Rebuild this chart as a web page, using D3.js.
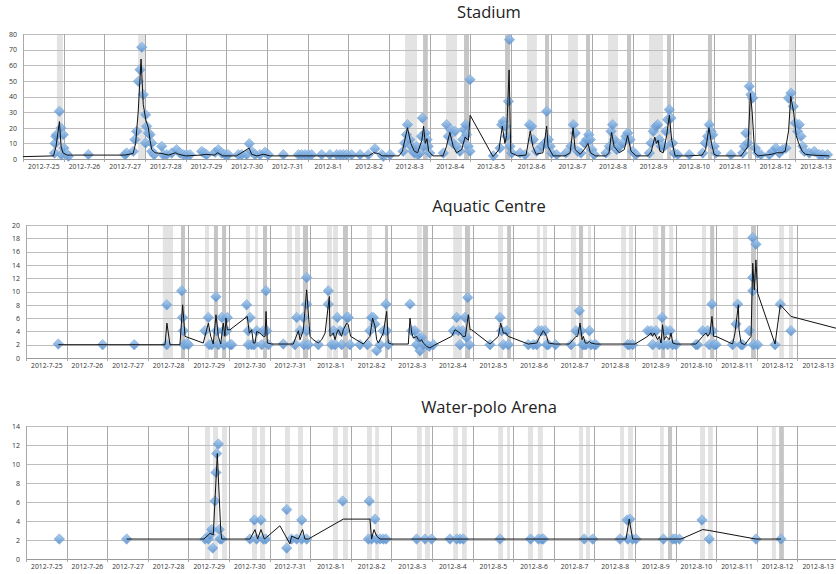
<!DOCTYPE html>
<html>
<head>
<meta charset="utf-8">
<script src="https://cdn.jsdelivr.net/npm/d3@7"></script>
<style>
  body { margin: 0; background: #fff; }
  svg { display: block; }
  .tick text { font-family: "Open Sans", sans-serif; fill: #333; }
</style>
</head>
<body>
<div class="viz-container"></div>
<script>
// times are "month-day hour" (hour may be fractional)

// ---------- Stadium ----------
const stadiumPts = [
  ["7-25 18.6",3.8],["7-25 18.9",10],["7-25 19.4",14.5],["7-25 19.9",15.6],["7-25 21.5",30.5],["7-25 22.4",19.8],
  ["7-25 22.8",2.8],["7-25 23.8",15.6],["7-26 0.2",7],["7-26 1.8",3.4],["7-26 2.8",1.7],
  ["7-26 14.6",2.8],
  ["7-27 12.2",2.8],["7-27 13.2",3.8],["7-27 17.1",4.9],["7-27 18.1",12.4],["7-27 19.1",17.7],["7-27 20.1",49.7],
  ["7-27 21.1",57.2],["7-27 22.1",71.5],["7-27 23",41.2],["7-28 0.4",28.4],["7-28 0.4",10.2],["7-28 1",20.9],
  ["7-28 2",16.6],["7-28 3",15.6],["7-28 4",10.2],["7-28 4",4.9],["7-28 5.4",2.8],
  ["7-28 9.9",8.1],["7-28 10.8",2.8],["7-28 12.8",2.8],["7-28 15.8",3.8],["7-28 18.7",6],["7-28 20.7",3.8],
  ["7-28 22.7",2.8],["7-29 0.6",2.8],["7-29 2.6",2.8],
  ["7-29 9.5",4.9],["7-29 10.9",3.8],["7-29 12.4",2.8],["7-29 17.4",4.3],["7-29 19.3",6],["7-29 21.3",3.8],
  ["7-29 23.3",2.8],["7-30 1.2",2.8],
  ["7-30 7.1",2.8],["7-30 9.1",2.8],["7-30 12",2.8],["7-30 13.6",9.8],["7-30 15",4.9],["7-30 17",2.8],
  ["7-30 19.9",2.8],["7-30 22.9",4.3],["7-31 0.8",2.8],
  ["7-31 9.7",2.8],["7-31 18.6",2.8],["7-31 20.5",2.8],["7-31 22.5",2.8],["8-1 0.5",2.8],["8-1 2.4",2.8],
  ["8-1 8.3",2.8],["8-1 13.2",2.8],["8-1 17.2",2.8],["8-1 19.2",2.8],["8-1 21.1",2.8],["8-1 23.1",2.8],
  ["8-2 2",2.8],["8-2 7",2.8],
  ["8-2 11.9",2.8],["8-2 15.8",6.6],["8-2 19.8",2.8],["8-2 20.7",1.7],["8-3 0.7",2.8],
  ["8-3 8.4",4.9],["8-3 9.4",10.2],["8-3 10.4",15.6],["8-3 11",22],["8-3 12.4",12.4],["8-3 13.3",8.1],
  ["8-3 14.3",4.9],["8-3 15.3",3.8],["8-3 16.3",8.1],["8-3 17.3",2.8],["8-3 18.3",3.8],["8-3 19.2",14.5],
  ["8-3 19.8",26.2],["8-3 20.6",8.1],["8-3 21.6",16.6],["8-3 22.6",12.4],["8-3 23.2",8.1],["8-4 0.1",3.8],
  ["8-4 8.2",3.8],["8-4 10.1",22],["8-4 11.1",14.5],["8-4 12.5",18.8],["8-4 13.7",10.2],["8-4 15",17.7],
  ["8-4 16",8.1],["8-4 18",4.9],["8-4 19.6",12.4],["8-4 20.4",18.8],["8-4 21.4",22],["8-4 21.9",15.6],
  ["8-4 22.9",8.1],["8-4 23.9",50.8],["8-4 23.9",4.9],
  ["8-5 13.7",2.1],["8-5 17.6",7],["8-5 18.6",22],["8-5 19.6",24.1],["8-5 20.6",20.9],["8-5 21.6",14.5],
  ["8-5 22.6",36.9],["8-5 23.2",76.4],["8-5 23.5",8.1],["8-6 0.5",3.8],
  ["8-6 5.4",3.8],["8-6 8.4",2.8],["8-6 11",22],["8-6 12.3",20.9],["8-6 13.3",12.4],["8-6 15.3",4.9],
  ["8-6 18.2",8.1],["8-6 20.2",10.2],["8-6 21.2",30.5],["8-6 22.2",12.4],["8-6 23.2",8.1],["8-7 0.1",3.8],
  ["8-7 3.1",2.8],
  ["8-7 8.6",3.8],["8-7 11.5",8.1],["8-7 12.9",22],["8-7 14.1",16.6],["8-7 15.5",4.9],["8-7 17.4",3.8],
  ["8-7 19.4",10.2],["8-7 20.8",12.4],["8-7 22",15.6],["8-7 22.9",12.4],["8-7 23.9",6],["8-8 1.3",2.8],
  ["8-8 8.2",3.8],["8-8 10.2",8.1],["8-8 11.2",17.7],["8-8 12.1",22],["8-8 13.1",12.4],["8-8 14.5",6],
  ["8-8 16.1",8.1],["8-8 18",10.2],["8-8 20",14.5],["8-8 21",16.6],["8-8 22.4",12.4],["8-8 23.9",4.9],
  ["8-9 1.9",2.8],
  ["8-9 9.8",3.8],["8-9 10.8",10.2],["8-9 12.1",17.7],["8-9 13.7",20.9],["8-9 14.7",22],["8-9 15.7",12.4],
  ["8-9 16.7",8.1],["8-9 18.6",8.1],["8-9 19.6",17.7],["8-9 20.6",25.2],["8-9 21.6",31.6],["8-9 22.6",26.2],
  ["8-9 23.5",10.2],["8-10 0.5",3.8],["8-10 2.5",2.8],
  ["8-10 9.4",2.8],["8-10 17.3",3.8],["8-10 18.8",10.2],["8-10 20.2",14.5],["8-10 21.2",22],["8-10 22.2",17.7],
  ["8-10 23.2",15.6],["8-11 0.1",8.1],["8-11 1.1",3.8],
  ["8-11 10",2.8],["8-11 16.9",3.8],["8-11 17.9",8.1],["8-11 18.8",16.6],["8-11 19.8",10.2],["8-11 20.8",46.5],
  ["8-11 21.8",41.2],["8-11 22.8",39],["8-12 0.4",7],["8-12 1.7",3.8],["8-12 3.7",2.8],
  ["8-12 8.6",2.8],["8-12 10.6",4.9],["8-12 12.5",7],["8-12 14.5",3.8],["8-12 16.5",6],["8-12 18.5",7],
  ["8-12 20",39],["8-12 21.4",42.2],["8-12 22.8",33.7],["8-13 0",23],["8-13 1.3",17.7],["8-13 2.3",22],
  ["8-13 3.3",14.5],["8-13 4.3",8.1],["8-13 5.3",4.9],["8-13 8.2",3.8],["8-13 11.2",4.9],["8-13 14.1",2.8],
  ["8-13 16.1",2.8],["8-13 19",2.8]
];
const stadiumLine = [
  ["7-25 0",1.5],["7-25 18",2],["7-25 19.5",8],["7-25 21.5",24],["7-25 22.5",8],["7-25 23.5",4],["7-26 2",2.5],
  ["7-27 12",2.5],["7-27 17",3.5],["7-27 18.5",10],["7-27 20",30],["7-27 21.7",64],["7-27 23",35],["7-28 0.5",25],
  ["7-28 2",20],["7-28 3",12],["7-28 4",6],["7-28 6",4],["7-28 10",3.5],["7-28 14",2.5],["7-28 18",4],["7-28 20",3],
  ["7-29 0",2],["7-29 9",2.5],["7-29 12",3],["7-29 17",2.5],["7-29 19",4],["7-29 22",2],["7-30 6",2],
  ["7-30 13.5",7],["7-30 15",3],["7-30 18",2],["7-30 22",3],["7-31 2",2],["8-2 12",2],["8-2 15",4],["8-2 18",3.5],
  ["8-2 20",2],["8-3 6",2],["8-3 8",5],["8-3 11",20],["8-3 13",10],["8-3 15",5],["8-3 17",4],["8-3 19.5",12],
  ["8-3 20.5",21],["8-3 21.5",10],["8-3 22.5",13],["8-3 23.5",5],["8-4 2",2],["8-4 8",2],["8-4 10",8],["8-4 12",17],
  ["8-4 14",8],["8-4 16",4],["8-4 19",6],["8-4 21",14],["8-4 23",12],["8-5 0",28],["8-5 13.5",1.5],["8-5 17",6],
  ["8-5 19",21],["8-5 20.5",10],["8-5 21.5",15],["8-5 23",57],["8-6 0",4],["8-6 4",2],["8-6 9",2.5],["8-6 11.5",18],
  ["8-6 13",8],["8-6 15",3],["8-6 19",4],["8-6 21.2",21],["8-6 22",8],["8-7 1",2],["8-7 8",2],["8-7 11",4],
  ["8-7 12.8",20],["8-7 14",6],["8-7 17",3],["8-7 20",7],["8-7 21.5",10],["8-7 23",4],["8-8 2",2],["8-8 8",2],
  ["8-8 10",4],["8-8 11.5",17],["8-8 13",8],["8-8 16",4],["8-8 19",6],["8-8 21",15],["8-8 23",5],["8-9 2",2],
  ["8-9 9",2],["8-9 11",5],["8-9 13",14],["8-9 14",10],["8-9 15",12],["8-9 16",5],["8-9 18",4],["8-9 20",15],
  ["8-9 21.6",28],["8-9 23",12],["8-10 1",2],["8-10 9",2],["8-10 17",2.5],["8-10 19",6],["8-10 21",20],
  ["8-10 22.5",10],["8-11 0",3],["8-11 2",2],["8-11 16",2],["8-11 18",5],["8-11 20",8],["8-11 21.5",42],
  ["8-11 22.5",30],["8-12 0",4],["8-12 2",2],["8-12 10",3],["8-12 13",4],["8-12 16",4],["8-12 18",5],["8-12 20",18],
  ["8-12 21.3",40],["8-12 23",30],["8-13 0.5",15],["8-13 2",10],["8-13 4",5],["8-13 6",3],["8-13 10",2.5],["8-13 20",2]
];
const stadiumLight = [
  ["7-25 20","7-25 23.5"],["7-27 20","7-28 0"],["8-3 9.6","8-3 16.6"],["8-4 9.8","8-4 16.2"],["8-6 9.6","8-6 15.4"],
  ["8-7 9.8","8-7 15.6"],["8-8 9.4","8-8 15.3"],["8-9 9.6","8-9 17.8"],["8-12 20.2","8-13 0.4"]
];
const stadiumDark = [
  ["8-3 20.2","8-3 23"],["8-4 20.4","8-4 23.3"],["8-5 20.6","8-5 23.5"],["8-6 20.2","8-6 22.6"],["8-7 20.4","8-7 22.8"],
  ["8-8 20.6","8-8 23"],["8-9 20.2","8-9 22.6"],["8-10 20.4","8-10 22.8"],["8-11 20.1","8-11 22.4"]
];

// ---------- Aquatic Centre ----------
const aquaticPts = [
  ["7-25 19.1",2.1],["7-26 21.3",2],["7-27 16",2],
  ["7-28 11.2",8],["7-28 11.2",2],["7-28 20",10.1],["7-28 20.6",6.1],["7-28 21",4.1],["7-28 21.4",2],["7-28 23",2.2],["7-29 0",2],
  ["7-29 9.8",4.1],["7-29 11.8",6.1],["7-29 12.4",2],["7-29 13.8",2],["7-29 16.3",9.2],["7-29 16.7",4.1],["7-29 17.7",2],
  ["7-29 19.7",6.1],["7-29 20.6",4.1],["7-29 21",2],["7-29 22.6",4.1],["7-29 23",6.1],["7-30 0.6",2],["7-30 1.6",2],
  ["7-30 10.4",8],["7-30 11.4",4.1],["7-30 11.4",2],["7-30 12.4",6.1],["7-30 13.4",2],["7-30 14.8",2],["7-30 16.4",4.1],
  ["7-30 19.3",2],["7-30 20.3",4.1],["7-30 21.9",10.1],["7-30 22.3",4.1],["7-30 23.3",2],
  ["7-31 8.1",2.1],["7-31 15",2],["7-31 16",6.1],["7-31 18",4.1],["7-31 19.9",6.1],["7-31 20.3",2],["7-31 21.9",8.1],
  ["7-31 21.9",12.1],["7-31 21.9",4.1],["7-31 22.9",2],["8-1 4.8",2],
  ["8-1 10.7",10.1],["8-1 10.7",8.1],["8-1 12.7",2],["8-1 13.7",4.1],["8-1 14.7",2],["8-1 16",6.1],["8-1 17.6",4.1],
  ["8-1 18.6",2],["8-1 20.6",4.1],["8-1 21.6",6.1],["8-1 22.5",6.1],["8-1 23.5",2],
  ["8-2 5.4",2],["8-2 9.8",2],["8-2 11.3",4.1],["8-2 12.3",6.1],["8-2 13.3",6.1],["8-2 14.3",5.1],["8-2 15.3",1.1],
  ["8-2 17.3",2],["8-2 19.2",4.1],["8-2 20.8",8.1],["8-2 21.2",4.1],["8-2 22.2",2],
  ["8-3 11",8.1],["8-3 12",4.1],["8-3 13.9",4.1],["8-3 14.9",2],["8-3 15.9",3.1],["8-3 16.9",1.1],["8-3 17.9",3.1],
  ["8-3 18.9",2],["8-3 20.9",2],["8-3 22.4",1.75],["8-4 0.8",2],
  ["8-4 12.6",4.1],["8-4 14.6",6.1],["8-4 15.6",4.1],["8-4 16.6",2],["8-4 18.1",4.1],["8-4 19.5",6.1],["8-4 20.5",3.1],
  ["8-4 21.1",9.1],["8-4 22.1",2],
  ["8-5 10.3",2],["8-5 16.2",6.1],["8-5 17.2",4.1],["8-5 18.2",2],["8-5 20.1",4.1],["8-5 21.1",2],
  ["8-6 8.9",2],["8-6 11.9",2],["8-6 13.9",2],["8-6 14.9",4.1],["8-6 16.8",4.1],["8-6 18.8",4.1],["8-6 19.8",2],["8-6 20.8",2],
  ["8-7 1",2],["8-7 10.2",2],["8-7 13.1",4.1],["8-7 15.1",7.1],["8-7 16.1",4.1],["8-7 17.1",2],["8-7 18",2],["8-7 19",2],
  ["8-7 21",4.1],["8-7 22",2],["8-8 0",2],["8-8 0.9",2],
  ["8-8 19.7",2],["8-8 20.6",2],["8-8 22.6",2],
  ["8-9 7.5",4.1],["8-9 9.5",4.1],["8-9 10.4",2],["8-9 12.4",4.1],["8-9 14.4",2],["8-9 16",6.1],["8-9 16.8",2],
  ["8-9 18.3",4.1],["8-9 19.3",2],["8-9 20.7",4.1],["8-9 22.3",2],["8-10 0.2",2],
  ["8-10 12",2],["8-10 13",2],["8-10 16",4.1],["8-10 19",4.1],["8-10 19.9",2],["8-10 21.5",8.1],["8-10 21.9",4.1],
  ["8-10 22.9",2],["8-10 23.9",2],
  ["8-11 9.7",2],["8-11 11.7",5.1],["8-11 12.7",8.1],["8-11 14.7",2],["8-11 15.6",2],["8-11 19.6",4.1],
  ["8-11 21.6",10.1],["8-11 21.6",12.1],["8-11 21.6",18.1],["8-11 22",2],["8-11 23.5",17.1],["8-12 0.5",2],
  ["8-12 10.8",2],["8-12 13.9",8.1],["8-12 20.2",4.1]
];
const aquaticLine = [
  ["7-25 19.1",2],["7-28 10.2",2],["7-28 11.3",5.25],["7-28 13.1",2],["7-28 19",2],["7-28 20.6",8],["7-28 22",3.25],
  ["7-29 8.8",2.25],["7-29 11.8",5.25],["7-29 13.2",3.25],["7-29 14.7",2.1],["7-29 16.3",6.5],["7-29 17.7",3.25],
  ["7-29 19.1",2.1],["7-29 20.6",5.25],["7-29 21.6",3.25],["7-29 22.2",6],["7-29 23",4.25],["7-30 0.6",4.25],
  ["7-30 10.8",6.25],["7-30 12",3.75],["7-30 13.4",4.25],["7-30 14.4",2.25],["7-30 15.4",2.25],["7-30 16.4",4],
  ["7-30 18.2",3.75],["7-30 20.3",3.25],["7-30 21.3",3.25],["7-30 21.9",7],["7-30 22.7",2.25],["7-31 1.2",2.1],
  ["7-31 14",2.1],["7-31 17",4.1],["7-31 18",2.75],["7-31 19.9",4.1],["7-31 21.9",10.25],["7-31 23.9",3.25],
  ["8-1 1.8",2.75],["8-1 4.8",2.25],["8-1 6.8",2.75],["8-1 8.8",3.75],["8-1 11.3",9.25],["8-1 11.7",3.25],
  ["8-1 13.7",3.75],["8-1 14.7",2.75],["8-1 15.7",3.75],["8-1 16.6",4.25],["8-1 17.6",3.75],["8-1 18.6",3.25],
  ["8-1 19.6",4.25],["8-1 21.6",5.25],["8-1 22.5",5],["8-1 23.9",3.25],["8-2 7.4",2.1],["8-2 11.3",3.25],
  ["8-2 12.9",6],["8-2 14.3",4.75],["8-2 15.3",2.75],["8-2 16.3",2.25],["8-2 19.2",3.75],["8-2 21.2",7],
  ["8-2 22.2",2.25],["8-3 0.1",2.1],["8-3 10",2.1],["8-3 11",6],["8-3 12",3.75],["8-3 13",3],["8-3 14.9",3.25],
  ["8-3 15.9",2.75],["8-3 16.9",2.5],["8-3 17.9",2.75],["8-3 18.9",2.25],["8-3 20.9",1.75],["8-3 22.8",1.5],
  ["8-4 0.8",1.85],["8-4 11.6",3.25],["8-4 13.6",4.25],["8-4 16.6",3.75],["8-4 18.1",3.25],["8-4 19.7",3.25],
  ["8-4 21.5",6.5],["8-4 22.5",4.25],["8-4 23.4",4.25],["8-5 10.3",2.1],["8-5 15.2",3.25],["8-5 16.6",5.25],
  ["8-5 18.2",3.75],["8-5 19.8",3.75],["8-5 21.1",3.25],["8-6 8.9",2.1],["8-6 13.9",2.25],["8-6 15.8",3.25],
  ["8-6 17.8",4.1],["8-6 18.8",3.75],["8-6 19.8",3.25],["8-6 20.8",2.25],["8-7 0.7",2.1],["8-7 9.2",2.1],
  ["8-7 13.1",3.25],["8-7 14.1",3.25],["8-7 15.5",5.25],["8-7 16.7",2.75],["8-7 17.5",3.25],["8-7 18.6",2.25],
  ["8-7 20",2.25],["8-7 21",2.5],["8-7 22",2.25],["8-8 0.9",2.1],["8-9 0",2.1],["8-9 7.5",3.25],["8-9 9.5",3.75],
  ["8-9 10.4",3.25],["8-9 11.4",3.75],["8-9 13.4",2.75],["8-9 14.4",3.25],["8-9 15.4",2.25],["8-9 16.3",5],
  ["8-9 17.3",2.75],["8-9 18.3",3.25],["8-9 20.3",2.75],["8-9 21.3",3.75],["8-9 22.3",2.25],["8-10 0.2",2.1],
  ["8-10 12",2.1],["8-10 16",3.25],["8-10 18",3.75],["8-10 19",3.25],["8-10 20.3",3.75],["8-10 21.5",6.25],
  ["8-10 22.5",3.25],["8-10 23.9",3.25],["8-11 9.7",2.1],["8-11 11.1",3.75],["8-11 13.1",8],["8-11 13.5",4.25],
  ["8-11 14.7",2.25],["8-11 16.9",2],["8-11 20.6",3.25],["8-11 21.6",14.25],["8-11 22.5",10.25],["8-11 23.5",14.75],
  ["8-12 0.5",9.75],["8-12 10.8",2.1],["8-12 13.9",8],["8-12 20.2",6.25],["8-14 0",4.4]
];
const aquaticLight = [
  ["7-28 8.9","7-28 14.9"],["7-29 9.8","7-29 12.2"],["7-30 10","7-30 12.4"],["7-30 15.4","7-30 17.2"],
  ["7-31 10.3","7-31 13.3"],["7-31 15","7-31 18"],["8-1 9.9","8-1 12.9"],["8-1 13.5","8-1 16.4"],["8-2 9.6","8-2 12.5"],
  ["8-3 15.1","8-3 18"],["8-4 12.5","8-4 17.7"],["8-5 15","8-5 18"],["8-6 14","8-6 15.8"],["8-6 17.6","8-6 20"],
  ["8-7 10.1","8-7 13.2"],["8-7 20.2","8-7 22"],["8-8 15.8","8-8 18.7"],["8-8 20.4","8-8 22.8"],["8-9 10.6","8-9 13.7"],
  ["8-9 20.2","8-9 22.6"],["8-10 15.6","8-10 18"],["8-11 9.9","8-11 12.9"],["8-12 13.2","8-12 16"],["8-12 19","8-12 21.4"]
];
const aquaticDark = [
  ["7-28 19.6","7-28 22"],["7-29 15.1","7-29 17.5"],["7-29 19.9","7-29 22.3"],["7-30 20.1","7-30 22.5"],
  ["7-31 19.7","7-31 22.7"],["8-1 19.4","8-1 22.3"],["8-2 20.2","8-2 22"],["8-3 18.7","8-3 21.6"],["8-4 19.5","8-4 22.5"],
  ["8-5 20.4","8-5 22.7"],["8-7 14.9","8-7 17.3"],["8-9 15.4","8-9 17.8"],["8-10 20.4","8-10 22.8"],["8-11 20.6","8-11 23.5"]
];

// ---------- Water-polo Arena ----------
const polopPts = [
  ["7-25 19.7",2.1],["7-27 11.5",2.1],
  ["7-29 9.8",2.1],["7-29 11.8",2.1],["7-29 12.8",2.55],["7-29 13.8",3.1],["7-29 14.4",1.15],["7-29 15.7",6.1],
  ["7-29 16.3",9.1],["7-29 16.7",11.1],["7-29 17.7",12.1],["7-29 18.3",3.1],["7-29 18.7",2.1],["7-29 19.7",2.1],
  ["7-30 12.4",2.1],["7-30 15",4.1],["7-30 16.3",2.1],["7-30 18.9",4.1],["7-30 20.3",2.1],["7-30 21.7",2.1],
  ["7-31 10.1",5.2],["7-31 10.1",1.15],["7-31 13",2.1],["7-31 16",2.1],["7-31 19",4.1],["7-31 19",2.1],["7-31 21.9",2.1],
  ["8-1 19.2",6.1],
  ["8-2 10.4",2.1],["8-2 10.9",6.1],["8-2 12.3",2.1],["8-2 14.3",4.2],["8-2 15.3",2.1],["8-2 17.3",2.1],["8-2 19.2",2.1],
  ["8-2 20.8",2.1],
  ["8-3 14.9",2.1],["8-3 19.9",2.1],["8-3 23.8",2.1],
  ["8-4 10.6",2.1],["8-4 14.6",2.1],["8-4 16.6",2.1],["8-4 18.5",2.1],
  ["8-5 16.2",2.1],
  ["8-6 10.3",2.1],["8-6 14.9",2.1],["8-6 16.8",2.1],["8-6 17.8",2.1],
  ["8-7 18",2.1],["8-7 23",2.1],
  ["8-8 15.1",2.1],["8-8 19.3",4.1],["8-8 21",4.2],["8-8 19.7",2.1],["8-8 22.6",2.1],["8-9 0.6",2.1],
  ["8-9 16.8",2.1],["8-9 22.3",2.1],["8-9 23.8",2.1],["8-10 2.2",2.1],
  ["8-10 15.6",4.1],["8-10 19.9",2.1],
  ["8-11 23.5",2.1],["8-12 14.3",2.1]
];
const poloLine = [
  ["7-27 11.5",2.1],["7-29 9.2",2.1],["7-29 12.8",2.7],["7-29 14.7",2.55],["7-29 17.1",11.1],["7-29 18.3",6.2],
  ["7-29 19.1",3.1],["7-29 19.7",2.1],["7-30 12.4",2.1],["7-30 15.4",3.1],["7-30 16.9",2.1],["7-30 18.9",3.1],
  ["7-30 20.9",2.1],["7-30 22.3",2.3],["7-31 6.1",3.5],["7-31 12",1.6],["7-31 13",2.4],["7-31 17",2.1],
  ["7-31 19.5",3.1],["7-31 20.9",2.1],["7-31 22.9",2.1],["8-1 19.6",4.2],["8-2 11.3",4.2],["8-2 12.3",2.1],
  ["8-2 13.7",3.1],["8-2 15.3",2.4],["8-2 17.3",2.1],["8-8 18.7",2.1],["8-8 20.6",4.2],["8-8 22.6",2.1],
  ["8-10 3.2",2.1],["8-10 16",3.1],["8-10 19.9",3],["8-11 23.5",2.1],["8-12 14.3",2.1]
];
const poloLight = [
  ["7-29 9.8","7-29 12.8"],["7-29 14.6","7-29 17.5"],["7-29 19.9","7-29 22.8"],["7-30 13.6","7-30 16.6"],
  ["7-30 18.3","7-30 21.3"],["7-31 9.1","7-31 12"],["7-31 16.8","7-31 19.7"],["8-1 13.5","8-1 16.4"],
  ["8-1 19.4","8-1 22.3"],["8-2 9.6","8-2 12.5"],["8-2 14.4","8-2 16.6"],["8-3 15.1","8-3 18"],["8-3 19.9","8-3 22.8"],
  ["8-4 12.5","8-4 15.4"],["8-4 17.7","8-4 20.6"],["8-5 15.1","8-5 18"],["8-5 20.4","8-5 22.1"],["8-6 8.7","8-6 11.7"],
  ["8-6 14.6","8-6 17.5"],["8-7 14.9","8-7 17.3"],["8-7 19","8-7 21.4"],["8-8 15.1","8-8 17.5"],["8-8 19.9","8-8 22.8"],
  ["8-9 14.8","8-9 17"],["8-10 14.4","8-10 17.4"],["8-10 19.2","8-10 22"],["8-12 8.9","8-12 11.3"]
];
const poloDark = [["8-9 19.5","8-9 21.9"],["8-12 13.2","8-12 16"]];

const startDay = new Date(2012, 6, 25);
const endDay = new Date(2012, 7, 14);

function parseT(s){
  const [md, h] = s.split(" ");
  const [m, d] = md.split("-").map(Number);
  return new Date(2012, m - 1, d, 0, Math.round(parseFloat(h) * 60));
}

let viz = d3.select(".viz-container")
  .append("svg")
    .attr("width", 836)
    .attr("height", 574);

let defs = viz.append("defs");
let grad = defs.append("linearGradient").attr("id", "dia")
  .attr("x1", 0).attr("y1", 0).attr("x2", 1).attr("y2", 1);
grad.append("stop").attr("offset", "0%").attr("stop-color", "#a4caf0");
grad.append("stop").attr("offset", "100%").attr("stop-color", "#568dcb");

const panels = [
  {title: "Stadium", pts: stadiumPts, line: stadiumLine, light: stadiumLight, dark: stadiumDark,
   yMax: 80, yStep: 10, x0: 23, x1: 836, yTop: 34, yBot: 159, titleY: 18},
  {title: "Aquatic Centre", pts: aquaticPts, line: aquaticLine, light: aquaticLight, dark: aquaticDark,
   yMax: 20, yStep: 2, x0: 26, x1: 838, yTop: 225, yBot: 358, titleY: 212},
  {title: "Water-polo Arena", pts: polopPts, line: poloLine, light: poloLight, dark: poloDark,
   yMax: 14, yStep: 2, x0: 26, x1: 838, yTop: 426, yBot: 559, titleY: 413}
];

const fmt = d3.timeFormat("%Y-%-m-%-d");
const diamond = d3.symbol().type(d3.symbolSquare).size(54);

panels.forEach(p => {
  let g = viz.append("g");
  let x = d3.scaleTime().domain([startDay, endDay]).range([p.x0, p.x1]);
  let y = d3.scaleLinear().domain([0, p.yMax]).range([p.yBot, p.yTop]);
  let h = p.yBot - p.yTop;

  g.append("text")
    .attr("x", 489).attr("y", p.titleY)
    .attr("text-anchor", "middle")
    .style("font-family", "'Open Sans', sans-serif")
    .style("font-size", "16.5px")
    .style("fill", "#222")
    .text(p.title);

  // shaded event bands
  g.selectAll(".light").data(p.light).enter().append("rect")
    .attr("x", d => x(parseT(d[0])))
    .attr("width", d => x(parseT(d[1])) - x(parseT(d[0])))
    .attr("y", p.yTop).attr("height", h)
    .attr("fill", "#e3e3e3");
  g.selectAll(".dark").data(p.dark).enter().append("rect")
    .attr("x", d => x(parseT(d[0])))
    .attr("width", d => x(parseT(d[1])) - x(parseT(d[0])))
    .attr("y", p.yTop).attr("height", h)
    .attr("fill", "#c6c6c6");

  // horizontal grid
  let yTicks = d3.range(0, p.yMax + 0.001, p.yStep);
  g.selectAll(".hg").data(yTicks).enter().append("line")
    .attr("x1", p.x0).attr("x2", p.x1)
    .attr("y1", d => Math.round(y(d)) + 0.5).attr("y2", d => Math.round(y(d)) + 0.5)
    .attr("stroke", d => d === 0 ? "#999" : "#bdbdbd").attr("stroke-width", 1);

  // vertical day grid
  let days = d3.timeDay.range(startDay, d3.timeDay.offset(endDay, 1));
  g.selectAll(".vg").data(days).enter().append("line")
    .attr("x1", d => Math.round(x(d)) + 0.5).attr("x2", d => Math.round(x(d)) + 0.5)
    .attr("y1", p.yTop).attr("y2", p.yBot + 3)
    .attr("stroke", "#a9a9a9").attr("stroke-width", 1);

  // y axis labels
  let yAxis = d3.axisLeft(y).tickValues(yTicks).tickSize(0).tickPadding(6);
  let ya = g.append("g").attr("transform", `translate(${p.x0},0)`).call(yAxis);
  ya.select(".domain").remove();
  ya.selectAll("text").style("font-size", "7px");

  // x labels, centred in each day
  let noons = d3.timeDay.range(startDay, endDay).map(d => d3.timeHour.offset(d, 12));
  let xAxis = d3.axisBottom(x).tickValues(noons).tickSize(0).tickPadding(5).tickFormat(fmt);
  let xa = g.append("g").attr("transform", `translate(0,${p.yBot})`).call(xAxis);
  xa.select(".domain").remove();
  xa.selectAll("text").style("font-size", "6.8px");

  // markers
  g.selectAll(".pt").data(p.pts).enter().append("path")
    .attr("d", diamond)
    .attr("transform", d => `translate(${x(parseT(d[0]))},${y(d[1])}) rotate(45)`)
    .attr("fill", "url(#dia)")
    .attr("stroke", "#6b9fd6")
    .attr("stroke-width", 0.6)
    .attr("opacity", 0.88);

  // trend line
  let line = d3.line().x(d => x(parseT(d[0]))).y(d => y(d[1]));
  g.append("path").datum(p.line)
    .attr("d", line)
    .attr("fill", "none")
    .attr("stroke", "#111")
    .attr("stroke-width", 1);
});
</script>
</body>
</html>
